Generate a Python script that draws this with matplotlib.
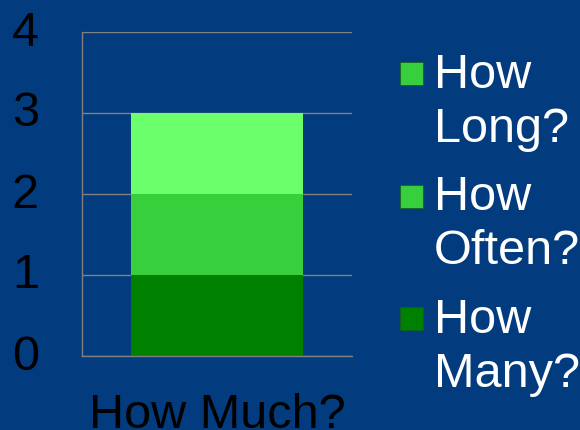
import matplotlib.pyplot as plt
from matplotlib.patches import Rectangle
from matplotlib.transforms import ScaledTranslation

# stacked bar: one category, three segments
category = ["How Much?"]
series_names = ["How Many?", "How Often?", "How Long?"]
series_values = [1, 1, 1]
bar_colors = ["#008000", "#38CF3C", "#6BFF6B"]
legend_colors = ["#008000", "#38CF3C", "#38CF3C"]
yticks = [0, 1, 2, 3, 4]

bg = "#033C7E"
W, H = 580, 430
plt.rcParams["font.family"] = ["Liberation Sans", "DejaVu Sans"]

fig = plt.figure(figsize=(W / 100, H / 100), dpi=100, facecolor=bg)
ax = fig.add_axes([82 / W, 1 - 356 / H, 270 / W, 324 / H])
ax.set_facecolor(bg)

bottom = 0
for name, val, col in zip(series_names, series_values, bar_colors):
    ax.bar(category, [val], bottom=bottom, width=0.64, color=col,
           label=name, zorder=2)
    bottom += val

ax.set_xlim(-0.5, 0.5)
ax.set_ylim(0, 4)
ax.set_yticks(yticks)
ax.yaxis.grid(True, color="#808080", linewidth=1, zorder=1)
ax.set_axisbelow(True)
for s in ["top", "right"]:
    ax.spines[s].set_visible(False)
for s in ["left", "bottom"]:
    ax.spines[s].set_color("#808080")
    ax.spines[s].set_linewidth(1)
ax.tick_params(axis="y", length=0, pad=31, labelsize=35, labelcolor="black")
ax.tick_params(axis="x", length=0, pad=27, labelsize=35, labelcolor="black")

# nudge the y labels up a few pixels
shift = ScaledTranslation(0, 0.04, fig.dpi_scale_trans)
for lab in ax.get_yticklabels():
    lab.set_transform(lab.get_transform() + shift)

# legend drawn by hand so each square lines up with the first text line
def px(x, y):
    return x / W, 1 - y / H

for i, (name, col) in enumerate(zip(series_names[::-1], legend_colors[::-1])):
    base = 88 + 122.5 * i
    sx, sy = px(400, base - 3)
    fig.add_artist(Rectangle((sx, sy), 23 / W, 23 / H, transform=fig.transFigure,
                             facecolor=col, edgecolor="#1a5a1a", linewidth=0.5))
    first, second = name.split(" ")
    fig.text(*px(434, base), first, color="white", fontsize=35, va="baseline")
    fig.text(*px(434, base + 54), second, color="white", fontsize=35, va="baseline")

fig.savefig("out.png", dpi=100, facecolor=bg)
